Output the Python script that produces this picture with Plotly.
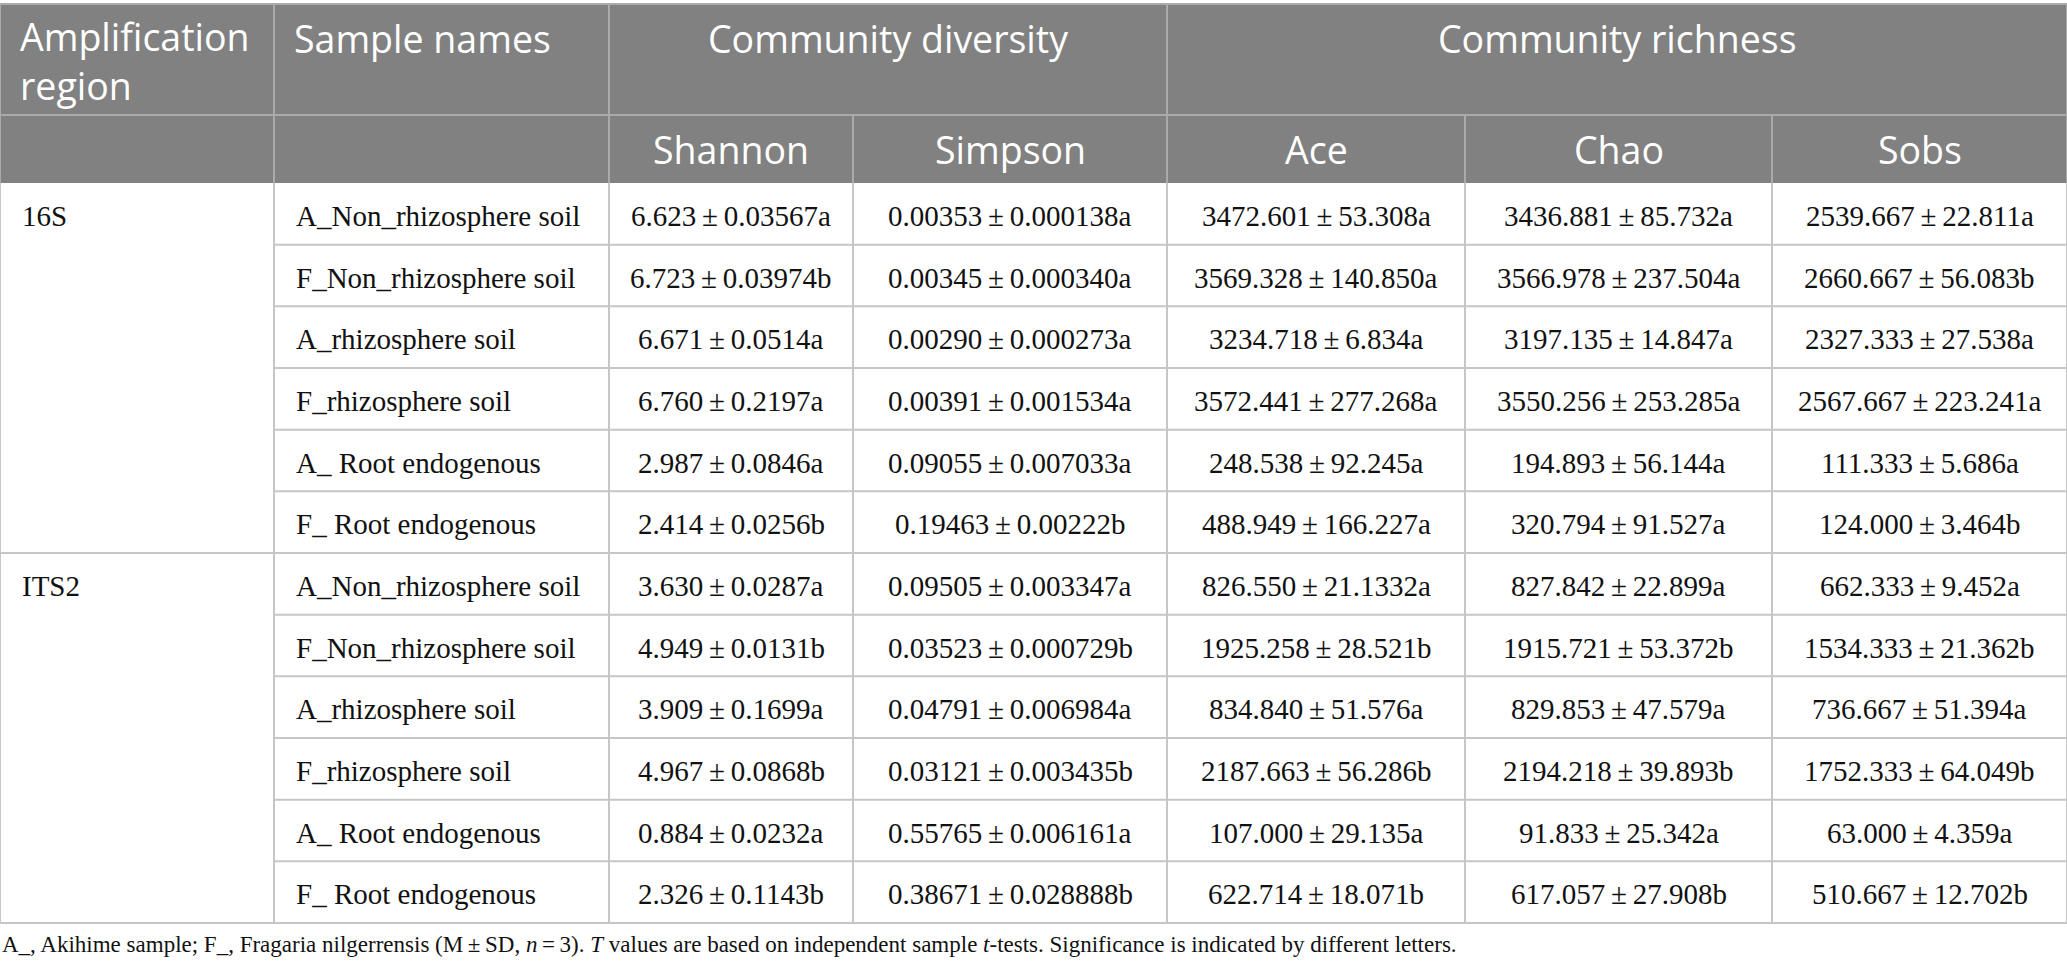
import plotly.graph_objects as go

# table content
regions = ["16S", "ITS2"]
sample_names = ["A_Non_rhizosphere soil", "F_Non_rhizosphere soil", "A_rhizosphere soil",
                "F_rhizosphere soil", "A_ Root endogenous", "F_ Root endogenous"]
group_headers = ["Community diversity", "Community richness"]
index_headers = ["Shannon", "Simpson", "Ace", "Chao", "Sobs"]

shannon = ["6.623±0.03567a", "6.723±0.03974b", "6.671±0.0514a", "6.760±0.2197a",
           "2.987±0.0846a", "2.414±0.0256b",
           "3.630±0.0287a", "4.949±0.0131b", "3.909±0.1699a", "4.967±0.0868b",
           "0.884±0.0232a", "2.326±0.1143b"]
simpson = ["0.00353±0.000138a", "0.00345±0.000340a", "0.00290±0.000273a", "0.00391±0.001534a",
           "0.09055±0.007033a", "0.19463±0.00222b",
           "0.09505±0.003347a", "0.03523±0.000729b", "0.04791±0.006984a", "0.03121±0.003435b",
           "0.55765±0.006161a", "0.38671±0.028888b"]
ace = ["3472.601±53.308a", "3569.328±140.850a", "3234.718±6.834a", "3572.441±277.268a",
       "248.538±92.245a", "488.949±166.227a",
       "826.550±21.1332a", "1925.258±28.521b", "834.840±51.576a", "2187.663±56.286b",
       "107.000±29.135a", "622.714±18.071b"]
chao = ["3436.881±85.732a", "3566.978±237.504a", "3197.135±14.847a", "3550.256±253.285a",
        "194.893±56.144a", "320.794±91.527a",
        "827.842±22.899a", "1915.721±53.372b", "829.853±47.579a", "2194.218±39.893b",
        "91.833±25.342a", "617.057±27.908b"]
sobs = ["2539.667±22.811a", "2660.667±56.083b", "2327.333±27.538a", "2567.667±223.241a",
        "111.333±5.686a", "124.000±3.464b",
        "662.333±9.452a", "1534.333±21.362b", "736.667±51.394a", "1752.333±64.049b",
        "63.000±4.359a", "510.667±12.702b"]

footnote = ("A_, Akihime sample; F_, Fragaria nilgerrensis (M\u2009±\u2009SD, <i>n</i>\u2009=\u20093). "
            "<i>T</i> values are based on independent sample <i>t</i>-tests. "
            "Significance is indicated by different letters.")

# layout geometry (pixels)
W, H = 2067, 971
col_edges = [0, 274, 609, 853, 1167, 1465, 1772, 2067]
y_top, y_h1, y_h2, y_bottom = 4, 115, 183, 923
n_rows = len(regions) * len(sample_names)
row_h = (y_bottom - y_h2) / n_rows

HEAD_BG = "#808180"
HEAD_LINE = "#a9aaa9"
BODY_LINE = "#c6c6c6"
SANS = "Open Sans"
SERIF = "Liberation Serif"
HEAD_SIZE = 37.5
BODY_SIZE = 29

fig = go.Figure()
shapes = []
ann = []


def hline(x0, x1, y, color, w=2):
    shapes.append(dict(type="line", x0=x0, x1=x1, y0=y, y1=y, xref="x", yref="y",
                       line=dict(color=color, width=w)))


def vline(x, y0, y1, color, w=2):
    shapes.append(dict(type="line", x0=x, x1=x, y0=y0, y1=y1, xref="x", yref="y",
                       line=dict(color=color, width=w)))


def text(x, y, s, size, color, family, anchor="center"):
    ann.append(dict(x=x, y=y, text=s, xref="x", yref="y", showarrow=False,
                    xanchor=anchor, yanchor="middle", align=anchor,
                    font=dict(family=family, size=size, color=color)))


# header block
shapes.append(dict(type="rect", x0=0, x1=W, y0=y_top, y1=y_h2, xref="x", yref="y",
                   fillcolor=HEAD_BG, line=dict(width=0), layer="below"))
hline(0, W, y_top, HEAD_LINE)
hline(0, W, y_h1, HEAD_LINE)
for x in [col_edges[0], col_edges[1], col_edges[2], col_edges[4], col_edges[-1]]:
    vline(x, y_top, y_h1, HEAD_LINE)
for x in col_edges:
    vline(x, y_h1, y_h2, HEAD_LINE)

text(18, 61, "Amplification<br>region", HEAD_SIZE, "white", SANS, "left")
text(col_edges[1] + 18, 38, "Sample names", HEAD_SIZE, "white", SANS, "left")
text((col_edges[2] + col_edges[4]) / 2, 38, group_headers[0], HEAD_SIZE, "white", SANS)
text((col_edges[4] + col_edges[7]) / 2, 38, group_headers[1], HEAD_SIZE, "white", SANS)
for j, h in enumerate(index_headers):
    text((col_edges[j + 2] + col_edges[j + 3]) / 2, 149, h, HEAD_SIZE, "white", SANS)

# body
columns = [shannon, simpson, ace, chao, sobs]
for i in range(n_rows):
    y0 = y_h2 + i * row_h
    yc = y0 + row_h / 2 + 2
    if i % len(sample_names) == 0:
        text(20, yc, regions[i // len(sample_names)], BODY_SIZE, "#111111", SERIF, "left")
    text(col_edges[1] + 20, yc, sample_names[i % len(sample_names)], BODY_SIZE, "#111111", SERIF, "left")
    for j, col in enumerate(columns):
        s = col[i].replace("±", "\u2009±\u2009")
        text((col_edges[j + 2] + col_edges[j + 3]) / 2, yc, s, BODY_SIZE, "#111111", SERIF)
    if i > 0:
        x_start = 0 if i % len(sample_names) == 0 else col_edges[1]
        hline(x_start, W, y0, BODY_LINE)

hline(0, W, y_bottom, BODY_LINE)
for x in col_edges:
    vline(x, y_h2, y_bottom, BODY_LINE)

text(0, 944, footnote, 23, "#111111", SERIF, "left")

fig.update_layout(
    width=W, height=H,
    margin=dict(l=0, r=0, t=0, b=0),
    paper_bgcolor="white", plot_bgcolor="white",
    xaxis=dict(range=[0, W], visible=False, fixedrange=True),
    yaxis=dict(range=[H, 0], visible=False, fixedrange=True),
    shapes=shapes, annotations=ann, showlegend=False,
)

fig.write_html("out.html", config={"displayModeBar": False},
               post_script="document.body.style.margin='0px';")
